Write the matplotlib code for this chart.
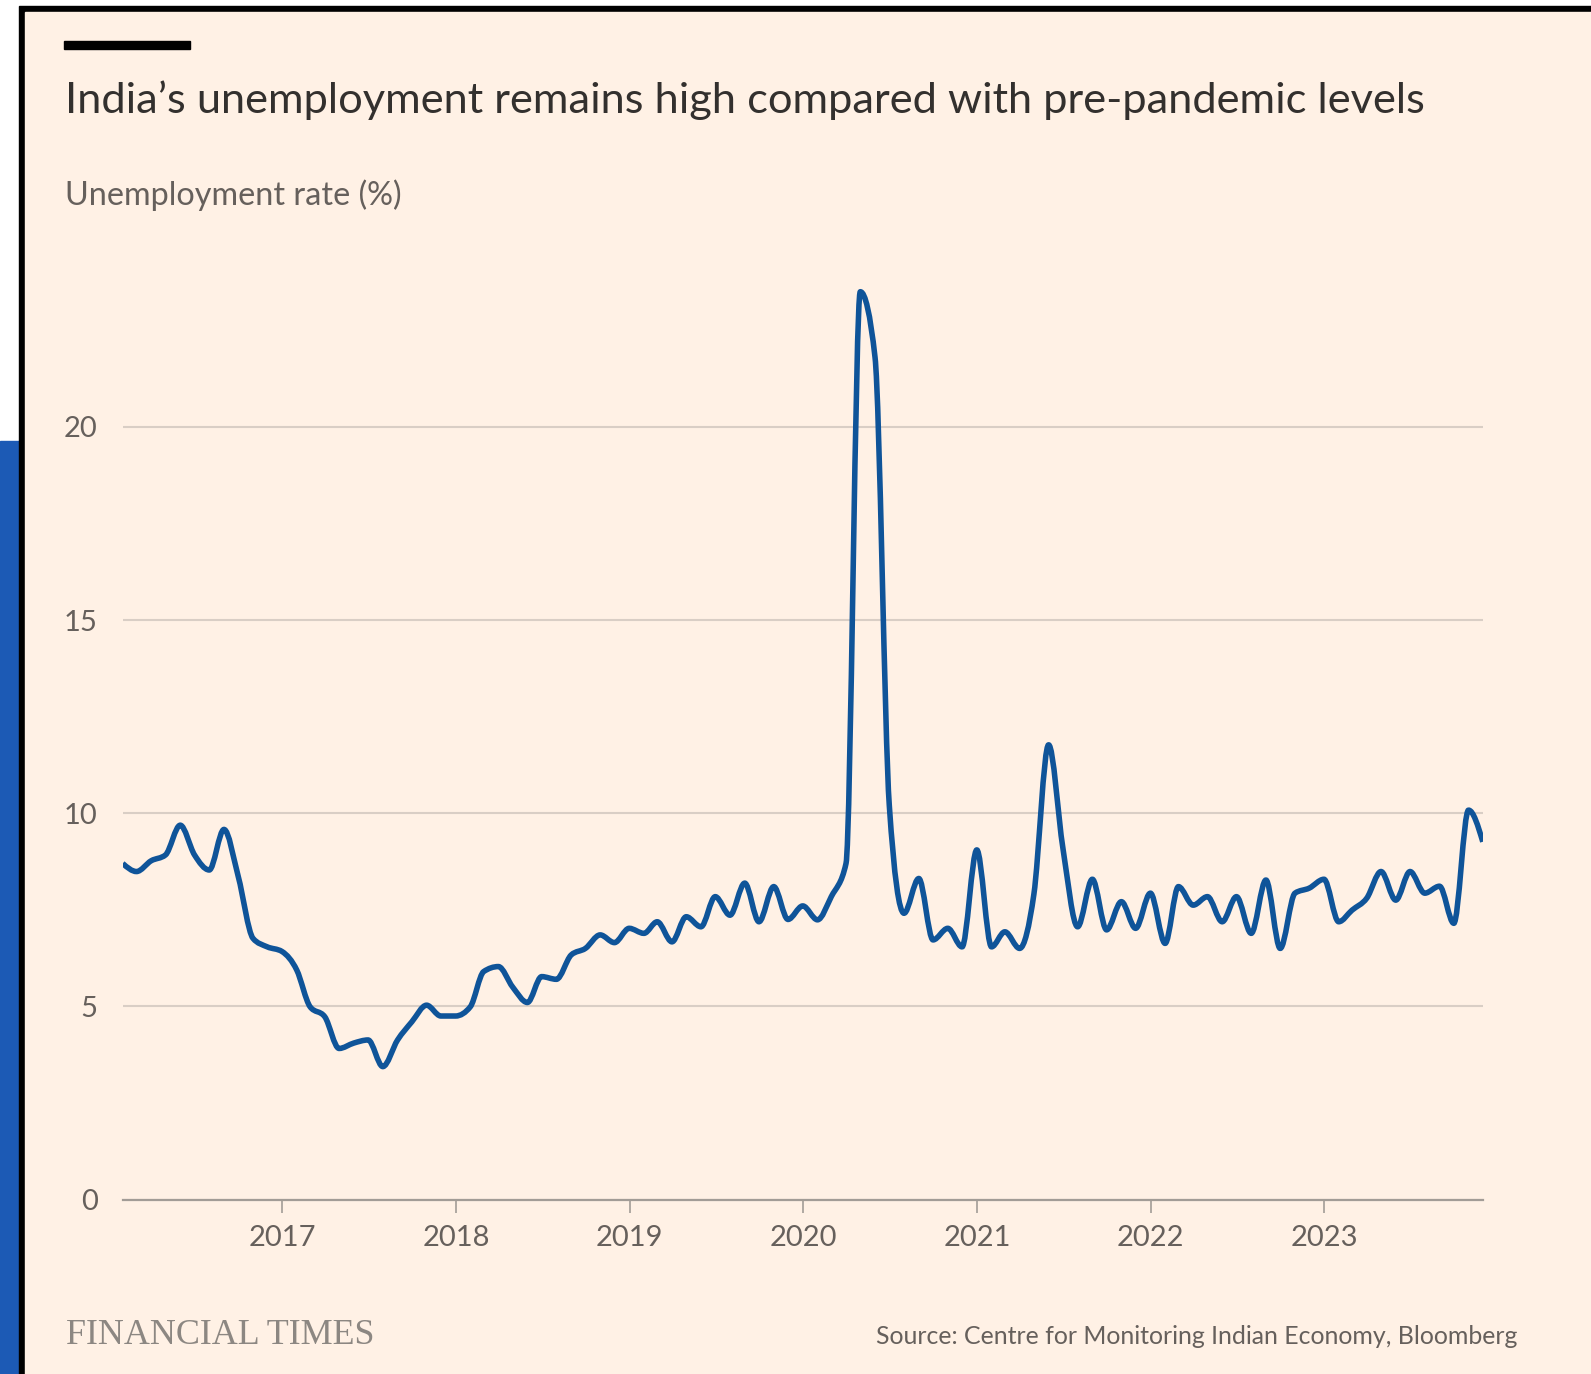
"""India unemployment chart, FT style"""

import matplotlib
matplotlib.use("Agg")
import matplotlib.pyplot as plt
import matplotlib.dates as mdates
import numpy as np
import pandas as pd
from matplotlib.patches import Rectangle, PathPatch
from matplotlib.path import Path

# monthly CMIE unemployment rate (%), Jan 2016 - Nov 2023
rate_2016 = [8.70, 8.49, 8.77, 8.92, 9.69, 8.92, 8.53, 9.58, 8.36, 6.76, 6.54, 6.42]
rate_2017 = [5.94, 4.99, 4.73, 3.91, 4.05, 4.13, 3.44, 4.13, 4.60, 5.03, 4.75, 4.75]
rate_2018 = [4.99, 5.90, 6.03, 5.50, 5.10, 5.77, 5.70, 6.33, 6.50, 6.85, 6.65, 7.02]
rate_2019 = [6.89, 7.19, 6.67, 7.32, 7.06, 7.84, 7.36, 8.19, 7.19, 8.10, 7.25, 7.60]
rate_2020 = [7.24, 7.84, 8.70, 23.50, 21.80, 10.20, 7.41, 8.31, 6.72, 7.02, 6.54, 9.05]
rate_2021 = [6.54, 6.93, 6.50, 7.90, 11.77, 9.10, 7.06, 8.29, 6.98, 7.71, 7.02, 7.93]
rate_2022 = [6.63, 8.10, 7.62, 7.84, 7.19, 7.84, 6.89, 8.27, 6.50, 7.93, 8.06, 8.29]
rate_2023 = [7.19, 7.49, 7.80, 8.49, 7.75, 8.49, 7.93, 8.11, 7.15, 10.08, 9.26]

y_ticks = [0, 5, 10, 15, 20]
x_tick_years = [2017, 2018, 2019, 2020, 2021, 2022, 2023]

title = "India\u2019s unemployment remains high compared with pre-pandemic levels"
subtitle = "Unemployment rate (%)"
source = "Source: Centre for Monitoring Indian Economy, Bloomberg"

rates = rate_2016 + rate_2017 + rate_2018 + rate_2019 + rate_2020 + rate_2021 + rate_2022 + rate_2023
dates = pd.date_range("2016-01-31", periods=len(rates), freq="ME")

BG = "#fff1e5"
LINE = "#0f5499"
TEXT_DARK = "#33302e"
TEXT = "#66605c"
GRID = "#d9cec5"
AXIS = "#a29c96"

W, H = 1591, 1374
plt.rcParams["font.family"] = ["Lato", "DejaVu Sans"]


def monotone_path(x, y):
    # smooth line through the points, same idea as d3.curveMonotoneX
    x = np.asarray(x, dtype=float)
    y = np.asarray(y, dtype=float)
    h = np.diff(x)
    s = np.diff(y) / h
    t = np.zeros(len(x))
    for i in range(1, len(x) - 1):
        p = (s[i - 1] * h[i] + s[i] * h[i - 1]) / (h[i - 1] + h[i])
        t[i] = (np.sign(s[i - 1]) + np.sign(s[i])) * min(abs(s[i - 1]), abs(s[i]), 0.5 * abs(p))
    t[0] = (3 * s[0] - t[1]) / 2 if h[0] else t[1]
    t[-1] = (3 * s[-1] - t[-2]) / 2
    verts = [(x[0], y[0])]
    codes = [Path.MOVETO]
    for i in range(len(x) - 1):
        d = h[i] / 3
        verts += [(x[i] + d, y[i] + d * t[i]), (x[i + 1] - d, y[i + 1] - d * t[i + 1]), (x[i + 1], y[i + 1])]
        codes += [Path.CURVE4] * 3
    return Path(verts, codes)


fig = plt.figure(figsize=(W / 100, H / 100), dpi=100)
fig.patch.set_facecolor("white")


def px_rect(x0, y0, x1, y1, color):
    # rectangle in pixel coords measured from the top-left corner
    fig.patches.append(Rectangle((x0 / W, 1 - y1 / H), (x1 - x0) / W, (y1 - y0) / H,
                                 transform=fig.transFigure, color=color, zorder=-10))


px_rect(0, 441, 19, H, "#1c5ab5")     # blue strip at the left
px_rect(19, 6, W, H, "black")         # frame
px_rect(25, 12, W, H, BG)             # cream panel
px_rect(64, 41, 190, 49, "black")     # FT top bar

ax = fig.add_axes([122.7 / W, 1 - 1199.5 / H, (1482.8 - 122.7) / W, (1199.5 - 272.4) / H])
ax.set_facecolor("none")

xnum = mdates.date2num(dates)
ax.add_patch(PathPatch(monotone_path(xnum, rates), facecolor="none", edgecolor=LINE,
                       linewidth=4.0, joinstyle="round", capstyle="butt", zorder=3))

ax.set_xlim(dates[0], dates[-1])
ax.set_ylim(0, 24)
ax.set_yticks(y_ticks)
ax.yaxis.grid(True, color=GRID, linewidth=1.5)
ax.set_axisbelow(True)
ax.set_xticks([pd.Timestamp(f"{y}-01-01") for y in x_tick_years])
ax.xaxis.set_major_formatter(mdates.DateFormatter("%Y"))

for side in ["top", "right", "left"]:
    ax.spines[side].set_visible(False)
ax.spines["bottom"].set_color(AXIS)
ax.spines["bottom"].set_linewidth(1.6)

ax.tick_params(axis="y", length=0, pad=18, labelsize=21, labelcolor=TEXT)
ax.tick_params(axis="x", length=9, width=1.2, color=AXIS, pad=9, labelsize=21, labelcolor=TEXT)

fig.text(65 / W, 1 - 113 / H, title, fontsize=31.2, color=TEXT_DARK, va="baseline")
fig.text(65 / W, 1 - 205 / H, subtitle, fontsize=23.3, color=TEXT, va="baseline")
fig.text(66 / W, 1 - 1344 / H, "FINANCIAL TIMES", fontsize=25.9, color="#8c8782",
         family="Liberation Serif", va="baseline")
fig.text(1517 / W, 1 - 1344 / H, source, fontsize=17.9, color=TEXT, ha="right", va="baseline")

fig.savefig("out.png", dpi=100, facecolor=fig.get_facecolor())
